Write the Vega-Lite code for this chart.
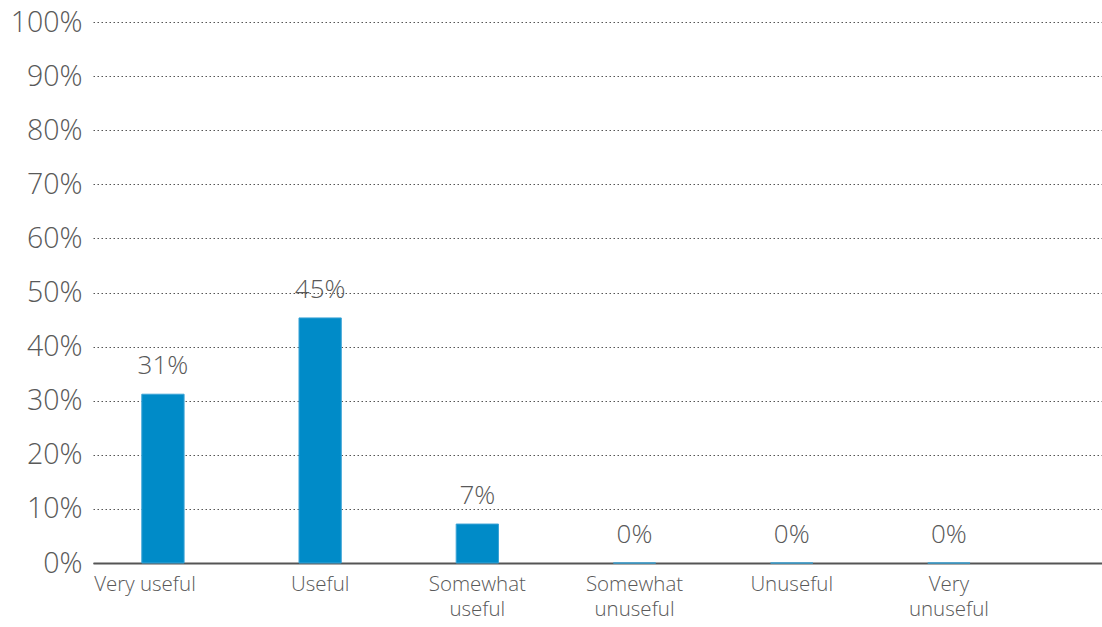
{
  "$schema": "https://vega.github.io/schema/vega-lite/v6.json",
  "width": 1009,
  "height": 541,
  "autosize": {"type": "none"},
  "padding": {"left": 93, "top": 22, "right": 0, "bottom": 64},
  "background": "white",
  "config": {"view": {"stroke": null}, "font": "Open Sans"},
  "data": {
    "values": [
      {"category": "Very useful", "value": 0.312},
      {"category": "Useful", "value": 0.453},
      {"category": "Somewhat useful", "value": 0.072},
      {"category": "Somewhat unuseful", "value": 0},
      {"category": "Unuseful", "value": 0},
      {"category": "Very unuseful", "value": 0}
    ]
  },
  "encoding": {
    "x": {
      "field": "category",
      "type": "nominal",
      "sort": null,
      "scale": {"paddingInner": 0.731, "paddingOuter": 0.575, "align": 0.27},
      "axis": {
        "title": null,
        "labelAngle": 0,
        "ticks": false,
        "grid": false,
        "domainColor": "#555555",
        "domainWidth": 2,
        "labelColor": "#595959",
        "labelFontSize": 20.5,
        "labelFontWeight": 300,
        "labelPadding": 11,
        "labelLineHeight": 25,
        "labelExpr": "datum.value=='Somewhat useful' ? ['Somewhat','useful'] : datum.value=='Somewhat unuseful' ? ['Somewhat','unuseful'] : datum.value=='Very unuseful' ? ['Very','unuseful'] : datum.label",
        "labelOffset": {"condition": {"test": "datum.value=='Very useful'", "value": -18}, "value": 0}
      }
    },
    "y": {
      "field": "value",
      "type": "quantitative",
      "scale": {"domain": [0, 1]},
      "axis": {
        "title": null,
        "values": [0, 0.1, 0.2, 0.3, 0.4, 0.5, 0.6, 0.7, 0.8, 0.9, 1],
        "format": ".0%",
        "ticks": false,
        "domain": false,
        "grid": true,
        "gridDash": [1.5, 2.5],
        "gridColor": "#555555",
        "gridWidth": 1,
        "labelColor": "#595959",
        "labelFontSize": 28.5,
        "labelFontWeight": 300,
        "labelPadding": 11
      }
    }
  },
  "layer": [
    {"mark": {"type": "bar", "color": "#008bc8", "stroke": "#3aa3d6", "strokeWidth": 1}},
    {
      "mark": {"type": "text", "baseline": "bottom", "dy": -15, "fontSize": 26, "fontWeight": 300, "color": "#595959"},
      "encoding": {"text": {"field": "value", "type": "quantitative", "format": ".0%"}}
    }
  ]
}
